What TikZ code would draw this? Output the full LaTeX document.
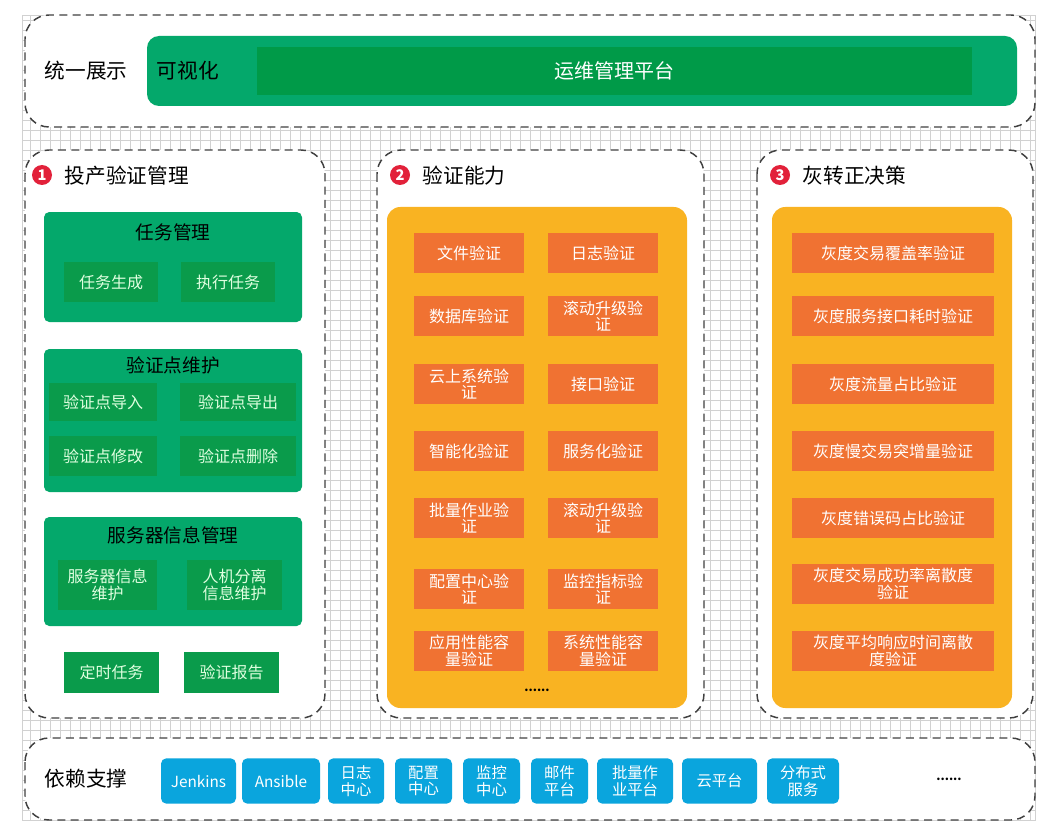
\documentclass[tikz,border=0pt]{standalone}
\usepackage{fontspec}
\setmainfont{Noto Sans CJK SC}
\definecolor{gbar}{RGB}{4,168,107}
\definecolor{gdark}{RGB}{0,154,72}
\definecolor{gsub}{RGB}{10,155,75}
\definecolor{obig}{RGB}{249,179,34}
\definecolor{oitem}{RGB}{240,114,50}
\definecolor{bitem}{RGB}{10,165,221}
\definecolor{badge}{RGB}{226,33,58}
\begin{document}
\begin{tikzpicture}[x=0.75pt,y=-0.75pt,
    zone/.style={draw=black!75, dashed, dash pattern=on 6pt off 4pt, line width=1.1pt, fill=white, rounded corners=18pt},
    gbox/.style={fill=gbar, rounded corners=4pt},
    gitem/.style={fill=gsub, text=white!88!green, font=\fontsize{12}{13}\selectfont, align=center},
    oitem/.style={fill=oitem, text=white, font=\fontsize{12}{12.5}\selectfont, align=center, minimum width=82.5pt, minimum height=30pt, inner sep=1pt},
    ritem/.style={oitem, minimum width=151.5pt},
    bitem/.style={fill=bitem, text=white, rounded corners=4pt, font=\fontsize{11.5}{12.5}\selectfont, align=center, minimum height=34pt, inner sep=1pt},
    num/.style={circle, fill=badge, text=white, font=\bfseries\fontsize{11}{11}\selectfont, inner sep=0pt, minimum size=15pt},
    head/.style={font=\fontsize{15.5}{16}\selectfont, anchor=west}]
\useasboundingbox (0,0) rectangle (1060,838);
\draw[black!18, step=7.5pt] (22,15) grid (1035,820);
\draw[black!18] (22,15) rectangle (1035,820);

% top layer
\draw[zone] (25,15) rectangle (1035,127);
\node[head] (show) at (40,71) {统一展示};
\fill[gbar, rounded corners=9pt] (147,36) rectangle (1017,106);
\node[font=\fontsize{15.5}{16}\selectfont, anchor=west] (vis) at (152,71) {可视化};
\node[fill=gdark, minimum width=536pt, minimum height=36pt, text=white, font=\fontsize{15}{16}\selectfont] (ops) at (614.5,71) {运维管理平台};

% column 1
\draw[zone] (25,150) rectangle (325,718);
\node[num] (n1) at (42,175) {1};
\node[head] (c1) at (60,176) {投产验证管理};
\fill[gbox] (44,212) rectangle (302,322);
\node[font=\fontsize{14}{15}\selectfont] (task) at (173,232) {任务管理};
\node[gitem, minimum width=70.5pt, minimum height=30pt] (t1) at (111,282) {任务生成};
\node[gitem, minimum width=70.5pt, minimum height=30pt] (t2) at (228,282) {执行任务};
\fill[gbox] (44,349) rectangle (302,492);
\node[font=\fontsize{14}{15}\selectfont] (pts) at (173,365) {验证点维护};
\node[gitem, minimum width=81pt, minimum height=29pt] (p1) at (103,402) {验证点导入};
\node[gitem, minimum width=87pt, minimum height=29pt] (p2) at (238,402) {验证点导出};
\node[gitem, minimum width=81pt, minimum height=30pt] (p3) at (103,456) {验证点修改};
\node[gitem, minimum width=87pt, minimum height=30pt] (p4) at (238,456) {验证点删除};
\fill[gbox] (44,517) rectangle (302,626);
\node[font=\fontsize{14}{15}\selectfont] (srv) at (173,535) {服务器信息管理};
\node[gitem, minimum width=74pt, minimum height=37pt] (s1) at (107.5,585) {服务器信息\\维护};
\node[gitem, minimum width=71pt, minimum height=37pt] (s2) at (234.5,585) {人机分离\\信息维护};
\node[gitem, minimum width=71pt, minimum height=31pt] (timer) at (111.5,672.5) {定时任务};
\node[gitem, minimum width=71pt, minimum height=31pt] (report) at (231.5,672.5) {验证报告};

% column 2
\draw[zone] (377,150) rectangle (704,718);
\node[num] (n2) at (400,175) {2};
\node[head] (c2) at (418,176) {验证能力};
\fill[obig, rounded corners=10pt] (387,207) rectangle (687,708);
\foreach \y/\a/\b [count=\i] in {253/文件验证/日志验证,
    316/数据库验证/{滚动升级验\\证},
    384/{云上系统验\\证}/接口验证,
    451/智能化验证/服务化验证,
    518/{批量作业验\\证}/{滚动升级验\\证},
    589/{配置中心验\\证}/{监控指标验\\证},
    651/{应用性能容\\量验证}/{系统性能容\\量验证}} {
  \node[oitem] (L\i) at (469,\y) {\a};
  \node[oitem] (R\i) at (603,\y) {\b};
}
\node[font=\bfseries\small] (more2) at (537,690) {......};

% column 3
\draw[zone] (757,150) rectangle (1033,718);
\node[num] (n3) at (780,175) {3};
\node[head] (c3) at (798,176) {灰转正决策};
\fill[obig, rounded corners=10pt] (772,207) rectangle (1012,708);
\foreach \y/\t [count=\i] in {253/灰度交易覆盖率验证, 316/灰度服务接口耗时验证,
    384/灰度流量占比验证, 451/灰度慢交易突增量验证, 518/灰度错误码占比验证,
    584/{灰度交易成功率离散度\\验证}, 651/{灰度平均响应时间离散\\度验证}} {
  \node[ritem] (G\i) at (893,\y) {\t};
}

% bottom layer
\draw[zone] (25,738) rectangle (1035,820);
\node[head] (dep) at (40,779) {依赖支撑};
\foreach \xa/\xb/\t [count=\i] in {161/236/Jenkins, 242/320/Ansible, 328/384/{日志\\中心},
    395/452/{配置\\中心}, 463/520/{监控\\中心}, 531/588/{邮件\\平台},
    597/673/{批量作\\业平台}, 682/757/云平台, 767/839/{分布式\\服务}} {
  \node[bitem, minimum width={(\xb-\xa)*0.75pt}] (D\i) at ({(\xa+\xb)/2},781) {\t};
}
\node[font=\bfseries\small] (more3) at (949,779) {......};
\end{tikzpicture}
\end{document}
